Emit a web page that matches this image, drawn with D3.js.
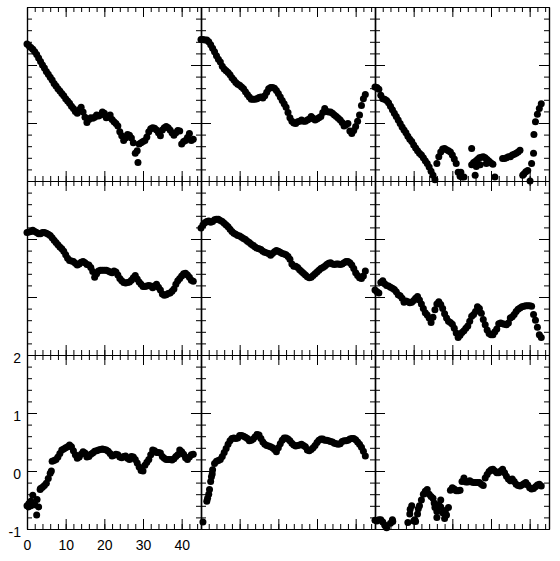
<!DOCTYPE html>
<html>
<head>
<meta charset="utf-8">
<script src="https://cdn.jsdelivr.net/npm/d3@7"></script>
<style>
  body { margin: 0; background: #fff; }
</style>
</head>
<body>
<div id="canvas"></div>
<script>
// sample times shared by every panel (x axis)
const times = [0,0.5,1,1.5,2,2.5,3,3.5,4,4.5,5,5.5,6,6.5,7,7.5,8,8.5,9,9.5,
  10,10.5,11,11.5,12,12.5,13,13.5,14,14.5,15,15.5,16,16.5,17,17.5,18,18.5,19,19.5,
  20,20.5,21,21.5,22,22.5,23,23.5,24,24.5,25,25.5,26,26.5,27,27.5,28,28.5,29,29.5,
  30,30.5,31,31.5,32,32.5,33,33.5,34,34.5,35,35.5,36,36.5,37,37.5,38,38.5,39,39.5,
  40,40.5,41,41.5,42,42.5,43];

const panel1 = [1.36,1.33,1.30,1.27,1.23,1.18,1.12,1.06,1.00,0.95,
  0.89,0.84,0.79,0.74,0.68,0.64,0.59,0.55,0.51,0.47,
  0.42,0.38,0.34,0.29,0.25,0.20,0.17,0.23,0.27,0.19,
  0.10,0.01,0.06,0.09,0.08,0.10,0.14,0.12,0.14,0.19,
  0.17,0.09,0.10,0.14,0.06,0.02,-0.01,-0.05,-0.15,-0.22,
  -0.30,-0.26,-0.20,-0.21,-0.26,-0.34,-0.52,-0.48,-0.36,-0.34,
  -0.32,-0.30,-0.24,-0.15,-0.10,-0.08,-0.09,-0.12,-0.17,-0.22,
  -0.12,-0.08,-0.06,-0.08,-0.12,-0.17,-0.21,-0.17,-0.13,-0.14,
  -0.36,-0.32,-0.30,-0.25,-0.18,-0.30,-0.28];
const extra1 = [[28.7,-0.68]];

const panel2 = [1.44,1.44,1.43,1.43,1.40,1.35,1.29,1.23,1.16,1.10,
  1.05,0.98,0.93,0.90,0.87,0.83,0.78,0.74,0.70,0.67,
  0.65,0.62,0.59,0.54,0.49,0.45,0.41,0.41,0.41,0.42,
  0.44,0.45,0.43,0.47,0.53,0.59,0.61,0.61,0.60,0.56,
  0.51,0.45,0.39,0.33,0.27,0.18,0.09,0.03,0.00,-0.01,
  0.02,0.03,0.05,0.03,0.03,0.05,0.07,0.11,0.08,0.05,
  0.07,0.09,0.11,0.18,0.25,0.20,0.19,0.19,0.17,0.14,
  0.11,0.08,0.05,0.01,-0.05,-0.03,-0.01,-0.14,-0.18,-0.13,
  -0.06,0.03,0.14,0.30,0.42,0.49,null];
const extra2 = [];

const panel3 = [0.62,0.61,0.58,0.48,0.42,0.41,0.39,0.35,0.29,0.23,
  0.17,0.11,0.05,-0.01,-0.07,-0.12,-0.17,-0.23,-0.28,-0.32,
  -0.38,-0.43,-0.48,-0.52,-0.55,-0.60,-0.65,-0.70,-0.76,-0.83,
  -0.90,-0.98,-0.70,-0.58,-0.50,-0.45,-0.44,-0.46,-0.48,-0.50,
  -0.55,-0.62,-0.70,-0.85,-0.92,-0.93,-0.93,null,null,null,
  -0.72,-0.68,-0.66,-0.63,-0.60,-0.59,-0.58,-0.60,-0.63,-0.66,
  -0.69,-0.71,null,null,null,null,-0.61,-0.61,-0.60,-0.58,
  -0.58,-0.55,-0.54,-0.52,-0.50,-0.47,null,-0.88,-0.84,-0.82,
  null,-0.70,-0.52,0.02,0.15,0.25,0.33];
const extra3 = [[25.0,-0.44],[25.9,-0.90],[31.0,-0.93],[40.1,-1.0],[41.1,-0.20],
  [26.2,-0.75],[27.2,-0.72],[28.8,-0.70],[22.2,-0.85],[38.2,-0.90]];

const panel4 = [1.11,1.12,1.13,1.15,1.13,1.11,1.09,1.09,1.11,1.11,
  1.10,1.08,1.06,1.02,0.98,0.94,0.90,0.86,0.83,0.79,
  0.73,0.67,0.63,0.62,0.61,0.58,0.55,0.57,0.60,0.61,
  0.59,0.56,0.55,0.51,0.44,0.34,0.40,0.45,0.46,0.46,
  0.46,0.46,0.45,0.43,0.42,0.45,0.43,0.38,0.32,0.28,
  0.25,0.24,0.25,0.26,0.29,0.33,0.37,0.31,0.26,0.22,
  0.18,0.18,0.19,0.20,0.19,0.16,0.19,0.22,0.17,0.12,
  0.05,0.03,0.04,0.06,0.07,0.10,0.14,0.22,0.28,0.32,
  0.36,0.40,0.41,0.38,0.34,0.29,0.27];
const extra4 = [];

const panel5 = [1.19,1.24,1.28,1.30,1.31,1.29,1.30,1.33,1.34,1.34,
  1.32,1.30,1.27,1.24,1.21,1.17,1.13,1.10,1.08,1.06,
  1.05,1.03,1.01,0.99,0.96,0.94,0.91,0.89,0.86,0.84,
  0.83,0.82,0.79,0.77,0.76,0.75,0.72,0.75,0.78,0.80,
  0.79,0.77,0.75,0.74,0.73,0.70,0.65,0.57,0.53,0.53,
  0.51,0.47,0.44,0.41,0.38,0.35,0.33,0.34,0.37,0.40,
  0.43,0.46,0.49,0.51,0.53,0.56,0.58,0.59,0.57,0.56,
  0.57,0.57,0.56,0.57,0.59,0.61,0.61,0.59,0.55,0.49,
  0.42,0.37,0.33,0.32,0.36,0.45,null];
const extra5 = [];

const panel6 = [0.12,0.09,0.07,0.25,0.28,0.23,0.20,0.19,0.17,0.15,
  0.13,0.09,0.04,0.02,-0.02,-0.09,-0.07,-0.08,-0.10,-0.09,
  -0.06,-0.02,0.01,-0.05,-0.12,-0.20,-0.27,-0.31,-0.36,-0.44,
  -0.35,-0.22,-0.12,-0.08,-0.13,-0.20,-0.29,-0.36,-0.42,-0.44,
  -0.47,-0.54,-0.62,-0.70,-0.66,-0.61,-0.58,-0.54,-0.50,-0.42,
  -0.33,-0.30,-0.25,-0.17,-0.20,-0.28,-0.39,-0.48,-0.57,-0.63,
  -0.65,-0.65,-0.60,-0.55,-0.46,-0.45,-0.46,-0.47,-0.48,-0.45,
  -0.36,-0.34,-0.30,-0.25,-0.21,-0.19,-0.17,-0.16,-0.15,-0.15,
  -0.15,-0.16,-0.30,-0.40,-0.52,-0.65,-0.70];
const extra6 = [];

const panel7 = [-0.60,-0.56,-0.52,-0.42,-0.58,-0.76,-0.62,-0.30,-0.28,-0.25,
  -0.21,-0.13,-0.04,0.17,0.18,0.20,0.24,0.30,0.36,0.38,
  0.40,0.42,0.45,0.42,0.35,0.28,0.22,0.24,0.29,0.33,
  0.31,0.24,0.25,0.29,0.31,0.34,0.35,0.36,0.37,0.38,
  0.37,0.36,0.34,0.30,0.26,0.27,0.29,0.28,0.24,0.23,
  0.25,0.26,0.22,0.20,0.25,0.24,0.20,0.14,0.07,0.01,
  0.00,0.10,0.15,0.20,0.28,0.36,0.35,0.32,0.32,0.31,
  0.25,0.22,0.20,0.20,0.20,0.19,0.21,0.25,0.28,0.36,
  0.33,0.29,0.23,0.20,0.24,0.28,0.29];
const extra7 = [[2.6,-0.49],[1.0,-0.60],[0.4,-0.62],[3.4,-0.32],[6.3,0.0]];

const panel8 = [null,-0.88,null,-0.52,-0.40,-0.18,0.02,0.13,0.17,0.18,
  0.20,0.25,0.32,0.39,0.46,0.52,0.56,0.57,0.56,0.57,
  0.61,0.61,0.60,0.58,0.56,0.52,0.53,0.55,0.59,0.63,
  0.62,0.56,0.50,0.46,0.44,0.43,0.42,0.40,0.37,0.33,
  0.40,0.47,0.53,0.57,0.57,0.55,0.52,0.48,0.45,0.43,
  0.44,0.45,0.46,0.44,0.42,0.36,0.35,0.37,0.40,0.44,
  0.49,0.53,0.55,0.55,0.53,0.53,0.52,0.51,0.50,0.48,
  0.47,0.46,0.47,0.51,0.52,0.52,0.53,0.55,0.56,0.56,
  0.54,0.50,0.46,0.41,0.34,0.26,null];
const extra8 = [[1.7,-0.47],[2.2,-0.32],[2.7,-0.10],[2.9,-0.05]];

const panel9 = [-0.85,-0.86,-0.84,-0.84,-0.88,-0.93,-0.98,null,-0.90,-0.84,
  null,null,null,null,null,null,null,-0.89,-0.74,-0.60,
  -0.86,-0.87,-0.74,-0.60,-0.50,-0.40,-0.35,-0.32,-0.40,-0.44,
  -0.47,-0.63,-0.80,-0.58,-0.62,-0.72,-0.82,-0.76,-0.63,-0.33,
  -0.29,-0.31,-0.34,-0.34,-0.33,-0.18,-0.12,-0.19,-0.19,-0.17,
  -0.19,-0.20,-0.20,-0.20,-0.20,-0.23,-0.25,-0.12,-0.06,-0.01,
  0.02,0.03,0.00,-0.03,-0.03,0.00,0.03,-0.03,-0.09,-0.14,
  -0.17,-0.14,-0.18,-0.23,-0.25,-0.26,-0.24,-0.22,-0.20,-0.24,
  -0.29,-0.31,-0.30,-0.27,-0.24,-0.23,-0.26];
const extra9 = [[9.1,-0.66],[11.2,-0.65],[16.0,-0.70],[17.0,-0.50],[15.3,-0.55],
  [18.2,-0.68],[10.3,-0.84],[4.6,-0.87]];

const xLabels = [0, 10, 20, 30, 40];
const yLabels = [-1, 0, 1, 2];

const panels = [
  [panel1, extra1], [panel2, extra2], [panel3, extra3],
  [panel4, extra4], [panel5, extra5], [panel6, extra6],
  [panel7, extra7], [panel8, extra8], [panel9, extra9]
];

const margin = { top: 7, left: 27 };
const size = 174;
const major = 10;
const minor = 5;

const x = d3.scaleLinear().domain([0, 45]).range([0, size]);
const y = d3.scaleLinear().domain([-1, 2]).range([size, 0]);

const svg = d3
  .select("#canvas")
  .append("svg")
  .attr("width", 560)
  .attr("height", 561);

const styleAxis = (g) => {
  g.select(".domain").attr("stroke", "#000").attr("stroke-width", 1.2);
  g.selectAll(".tick line").attr("stroke", "#000").attr("stroke-width", 1);
};

// plain hyphen for negatives, as in the original
const plain = (d) => String(d);

panels.forEach(([ys, extra], i) => {
  const col = i % 3;
  const row = Math.floor(i / 3);
  const g = svg
    .append("g")
    .attr("transform", "translate(" + (margin.left + col * size) + "," + (margin.top + row * size) + ")");

  const pts = times
    .map((t, j) => [t, ys[j]])
    .filter((d) => d[1] != null)
    .concat(extra);

  g.selectAll(".dot")
    .data(pts)
    .join("circle")
    .attr("class", "dot")
    .attr("cx", (d) => x(d[0]))
    .attr("cy", (d) => y(d[1]))
    .attr("r", 3.5)
    .attr("fill", "#000");

  // minor and major ticks on all four sides, pointing inward
  const axes = [
    [d3.axisBottom(x), "translate(0," + size + ")", x],
    [d3.axisTop(x), null, x],
    [d3.axisLeft(y), null, y],
    [d3.axisRight(y), "translate(" + size + ",0)", y],
  ];
  axes.forEach(([ax, tr, sc]) => {
    const isX = sc === x;
    const minorTicks = isX ? x.ticks(22) : y.ticks(15);
    const majorTicks = isX ? xLabels : yLabels;
    const gm = g.append("g").attr("transform", tr);
    gm.call(ax.tickValues(minorTicks).tickSize(-minor).tickSizeOuter(0).tickFormat(""));
    styleAxis(gm);
    const gM = g.append("g").attr("transform", tr);
    gM.call(ax.tickValues(majorTicks).tickSize(-major).tickSizeOuter(0).tickFormat(""));
    styleAxis(gM);
  });

  // labels only on the bottom-left panel
  if (row === 2 && col === 0) {
    const gl = g.append("g")
      .call(d3.axisLeft(y).tickValues(yLabels).tickSize(0).tickPadding(6).tickFormat(plain));
    gl.select(".domain").remove();
    gl.selectAll("text")
      .attr("dy", "0.5em")
      .style("font-family", "'Liberation Sans', Arial, sans-serif")
      .style("font-size", "14px")
      .attr("fill", "#000");

    const gb = g.append("g")
      .attr("transform", "translate(0," + size + ")")
      .call(d3.axisBottom(x).tickValues(xLabels).tickSize(0).tickPadding(11).tickFormat(plain));
    gb.select(".domain").remove();
    gb.selectAll("text")
      .style("font-family", "'Liberation Sans', Arial, sans-serif")
      .style("font-size", "14px")
      .attr("fill", "#000");
  }
});
</script>
</body>
</html>
